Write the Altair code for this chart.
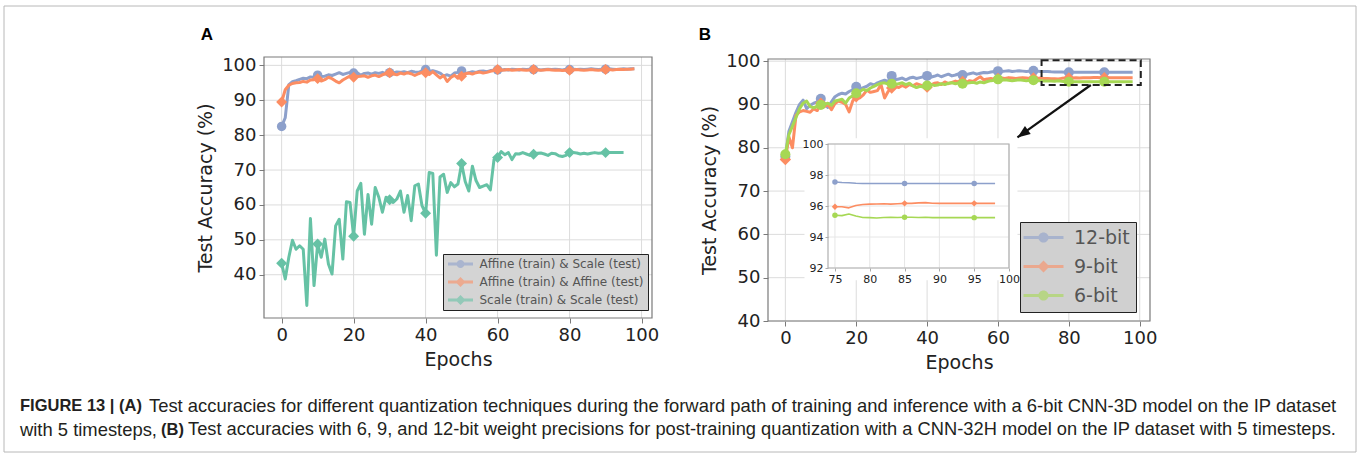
import math
import altair as alt
import pandas as pd

# ---------------- data : panel A ----------------
epochs_a = list(range(99))
acc_affine_scale = [
    82.5, 85.0, 94.5, 95.3, 95.6, 96.0, 96.3, 96.2, 96.7, 96.5,
    97.2, 96.8, 96.9, 97.3, 97.1, 97.5, 97.9, 97.4, 97.7, 98.0,
    97.8, 97.9, 97.2, 97.7, 97.8, 97.5, 97.9, 97.7, 98.0, 97.6,
    97.9, 97.8, 98.1, 98.0, 98.2, 97.9, 98.3, 98.1, 98.0, 98.4,
    98.8, 98.3, 98.5, 98.2, 97.8, 97.0, 97.3, 96.9, 97.8, 98.0,
    98.4, 97.6, 97.9, 98.2, 98.0, 98.3, 98.4, 98.2, 98.5, 98.6,
    98.7, 98.6, 98.8, 98.7, 98.9, 98.8, 98.7, 98.9, 98.8, 98.9,
    98.8, 98.9, 98.7, 98.8, 98.9, 98.8, 98.9, 98.8, 98.7, 98.9,
    98.8, 98.9, 98.8, 98.9, 98.8, 98.9, 99.0, 98.9, 98.8, 98.9,
    98.9, 99.0, 98.9, 98.8, 98.9, 99.0, 98.9, 99.0, 99.0,
]
acc_affine_affine = [
    89.5, 93.0, 94.3, 94.8, 95.0, 95.1, 95.4, 95.2, 95.8, 95.9,
    96.2, 95.5, 95.9, 96.6, 96.2, 95.5, 95.0, 95.8, 96.4, 96.9,
    96.6, 96.8, 96.9, 97.0, 96.6, 97.0, 97.2, 96.8, 97.3, 97.6,
    97.9, 97.5, 97.3, 97.8, 97.5, 97.9, 97.6, 97.1, 97.6, 98.0,
    97.9, 97.4, 98.2, 97.3, 96.4, 97.1, 95.4, 96.5, 97.2, 96.3,
    96.9, 97.6, 97.8, 97.5, 97.9, 98.1, 97.8, 98.0, 98.3, 98.5,
    98.8, 98.6, 98.7, 98.8, 98.6, 98.7, 98.8, 98.7, 98.6, 98.7,
    98.8, 98.7, 98.6, 98.7, 98.8, 98.7, 98.6, 98.7, 98.5, 98.6,
    98.6, 98.7, 98.8, 98.7, 98.6, 98.7, 98.8, 98.7, 98.6, 98.7,
    98.8, 98.8, 98.7, 98.8, 98.9, 98.8, 98.9, 98.9, 99.0,
]
epochs_a_scale = list(range(96))
acc_scale_scale = [
    43.3, 38.8, 45.0, 49.9, 47.3, 48.3, 47.3, 31.2, 56.1, 36.9,
    48.8, 45.0, 50.2, 43.1, 40.2, 54.0, 55.9, 44.5, 60.9, 60.7,
    51.0, 64.0, 66.2, 51.6, 63.0, 54.5, 65.0, 62.2, 57.9, 62.2,
    61.5, 60.7, 61.7, 64.0, 57.9, 62.7, 55.5, 65.5, 66.0, 59.8,
    57.6, 69.3, 69.0, 45.6, 68.0, 68.8, 63.6, 66.4, 65.2, 66.0,
    71.9, 66.7, 64.0, 71.1, 67.0, 65.0, 65.4, 65.8, 64.3, 73.0,
    73.6, 75.3, 74.4, 75.0, 73.0, 74.7, 74.6, 75.0, 74.6, 74.2,
    74.5, 74.8, 74.9, 74.6, 74.2, 74.8, 74.7, 74.1, 73.9, 74.2,
    75.0, 75.0, 74.9, 74.6, 74.8, 74.6, 74.8, 75.0, 74.8, 74.9,
    75.0, 75.0, 75.0, 75.0, 75.0, 75.0,
]
names_a = ["Affine (train) & Scale (test)", "Affine (train) & Affine (test)",
           "Scale (train) & Scale (test)"]

# ---------------- data : panel B ----------------
epochs_b = list(range(99))
acc_12bit = [
    78.0, 83.8, 86.0, 88.2, 90.0, 91.0, 89.0, 89.8, 90.3, 90.6,
    91.3, 90.2, 89.3, 90.6, 91.8, 92.3, 92.6, 92.4, 93.0, 93.4,
    94.1, 93.6, 93.9, 94.2, 94.8, 94.5, 95.0, 95.3, 95.6, 95.3,
    96.6, 95.7, 95.9, 96.1, 95.7, 96.1, 96.3, 96.0, 96.2, 96.4,
    96.6, 96.3, 96.5, 96.8, 96.4, 96.7, 97.0, 96.6, 96.8, 97.1,
    96.8, 96.9, 97.1, 97.3, 97.0, 97.2, 97.4, 97.3, 97.5, 97.6,
    97.7, 97.6, 97.7, 97.8, 97.6, 97.7, 97.8, 97.7, 97.6, 97.7,
    97.8, 97.7, 97.6, 97.6, 97.6, 97.55, 97.52, 97.5, 97.47, 97.45,
    97.45, 97.45, 97.45, 97.45, 97.45, 97.45, 97.45, 97.45, 97.45, 97.45,
    97.45, 97.45, 97.45, 97.45, 97.45, 97.45, 97.45, 97.45, 97.45,
]
acc_9bit = [
    77.3, 82.5, 80.0, 87.5, 88.3, 88.6, 88.4, 88.2, 89.0, 88.6,
    90.3, 89.5, 90.0, 88.8, 90.2, 90.8, 90.5, 90.0, 88.3, 90.8,
    91.8, 91.5, 92.2, 93.3, 92.8, 93.0, 93.2, 94.6, 91.5, 93.0,
    93.8, 94.2, 93.9, 94.4, 94.0, 94.6, 94.3, 94.8, 94.5, 94.2,
    94.0, 94.5, 94.9, 95.0, 94.6, 95.2, 94.8, 95.1, 95.4, 95.2,
    95.3, 95.0, 95.5, 95.3, 95.9, 96.4, 95.7, 95.9, 96.0, 95.8,
    96.0, 96.1, 96.0, 96.2, 96.1, 96.0, 96.1, 96.2, 96.1, 96.0,
    96.1, 96.0, 96.1, 96.0, 96.0, 95.95, 95.95, 95.88, 96.03, 96.1,
    96.12, 96.13, 96.15, 96.12, 96.15, 96.17, 96.17, 96.2, 96.22, 96.18,
    96.17, 96.17, 96.17, 96.17, 96.17, 96.17, 96.17, 96.17, 96.17,
]
acc_6bit = [
    78.5, 83.0, 85.0, 87.0, 89.0, 90.3, 90.8, 89.5, 89.2, 89.6,
    89.9, 90.0, 90.3, 89.8, 90.8, 91.0, 91.2, 90.3, 91.5, 92.0,
    92.6, 93.0, 93.5, 93.2, 93.8, 94.2, 94.6, 94.9, 95.0, 94.7,
    94.8, 94.6, 94.8, 95.0, 94.6, 94.9, 94.3, 93.9, 94.2, 94.0,
    94.4, 94.6, 94.4, 94.5, 94.8, 94.6, 94.9, 95.0, 94.8, 95.0,
    94.8, 94.9, 95.0, 95.1, 94.9, 95.2, 95.0, 95.3, 95.5, 95.6,
    95.8, 95.6, 95.7, 95.6, 95.5, 95.6, 95.7, 95.6, 95.5, 95.6,
    95.6, 95.5, 95.5, 95.4, 95.4, 95.4, 95.38, 95.48, 95.35, 95.26,
    95.25, 95.23, 95.26, 95.27, 95.26, 95.27, 95.27, 95.26, 95.27, 95.25,
    95.25, 95.25, 95.25, 95.25, 95.25, 95.25, 95.25, 95.25, 95.25,
]
names_b = ["12-bit", "9-bit", "6-bit"]

x_ticks = [0, 20, 40, 60, 80, 100]
y_ticks = [40, 50, 60, 70, 80, 90, 100]
inset_x_ticks = [75, 80, 85, 90, 95, 100]
inset_y_ticks = [92, 94, 96, 98, 100]
inset_start = 75

# zoom box, arrow (panel B data coords) and inset background box
zoom_box = {"epoch": [72.3], "epoch2": [100.3], "acc": [94.5], "acc2": [100.2]}
arrow_pts = {"epoch": [86.2, 65.5], "acc": [94.5, 82.4]}
inset_bg = {"epoch": [5.4], "epoch2": [65.5], "acc": [49.4], "acc2": [82.2]}

caption_1_bold = "FIGURE 13 | (A)"
caption_1 = ("Test accuracies for different quantization techniques during the forward path "
             "of training and inference with a 6-bit CNN-3D model on the IP dataset")
caption_2a = "with 5 timesteps,"
caption_2_bold = "(B)"
caption_2b = ("Test accuracies with 6, 9, and 12-bit weight precisions for post-training "
              "quantization with a CNN-32H model on the IP dataset with 5 timesteps.")

# ---------------- styles / layout ----------------
W, H = 1360, 457
FONT = "DejaVu Sans"
CAP_FONT = "Liberation Sans"
TXT = "#222222"
SPINE = "#7a7a7a"
GRID = "#dcdcdc"
BLUE, ORANGE, TEAL, LIME = "#8da0cb", "#fc8d62", "#66c2a5", "#a6d854"

A_XDOM, A_YDOM = [-4.9, 102.9], [27.6, 102.4]
A_XR, A_YR = [264, 652], [318, 57]
B_XDOM, B_YDOM = [-4.9, 102.9], [40, 100.5]
B_XR, B_YR = [768, 1150], [321, 59]
I_XDOM, I_YDOM = [74, 100], [92, 100]
I_XR, I_YR = [828, 1009], [268, 144]


def scale(dom, rng):
    return alt.Scale(domain=dom, range=rng, nice=False, zero=False)


def axis(orient, offset, values, title, fs, tick, pad, zindex=0, color=SPINE, title_pad=6):
    kw = dict(orient=orient, offset=offset, values=values, grid=False, domain=False,
              ticks=True, tickSize=tick, tickColor=color, tickWidth=1,
              labelFont=FONT, labelFontSize=fs, labelColor=TXT, labelPadding=pad,
              labelFlush=False, labelOverlap=False, format="d", zindex=zindex)
    if title:
        kw.update(title=title, titleFont=FONT, titleFontSize=19, titleFontWeight="normal",
                  titleColor=TXT, titlePadding=title_pad)
    else:
        kw.update(title=None)
    return alt.Axis(**kw)


def enc(xs, ys, xax, yax, x2=False, y2=False):
    e = dict(x=alt.X("epoch:Q", scale=xs, axis=xax), y=alt.Y("acc:Q", scale=ys, axis=yax))
    if x2:
        e["x2"] = alt.X2("epoch2:Q")
    if y2:
        e["y2"] = alt.Y2("acc2:Q")
    return e


def frame_layers(xdom, ydom, xs, ys, xax, yax, xt, yt, grid_color, spine_color):
    gx = pd.DataFrame({"epoch": xt, "acc": [ydom[0]] * len(xt), "acc2": [ydom[1]] * len(xt)})
    gy = pd.DataFrame({"acc": yt, "epoch": [xdom[0]] * len(yt), "epoch2": [xdom[1]] * len(yt)})
    box = pd.DataFrame({"epoch": [xdom[0]], "epoch2": [xdom[1]], "acc": [ydom[0]], "acc2": [ydom[1]]})
    return [
        alt.Chart(gx).mark_rule(color=grid_color, strokeWidth=1).encode(**enc(xs, ys, xax, yax, y2=True)),
        alt.Chart(gy).mark_rule(color=grid_color, strokeWidth=1).encode(**enc(xs, ys, xax, yax, x2=True)),
    ], alt.Chart(box).mark_rect(fillOpacity=0, stroke=spine_color, strokeWidth=1.2).encode(
        **enc(xs, ys, xax, yax, x2=True, y2=True))


def series(df, color, shape, xs, ys, xax, yax, lw, msize, mfilter):
    e = enc(xs, ys, xax, yax)
    line = alt.Chart(df).mark_line(color=color, strokeWidth=lw, strokeJoin="round").encode(**e)
    pts = alt.Chart(df).transform_filter(mfilter).mark_point(
        shape=shape, filled=True, size=msize, color=color, opacity=1, strokeWidth=0).encode(**e)
    return [line, pts]


def sym_paths(half_len, half_th, circ_r, diam_r, shapes):
    line = f"M{-half_len},{-half_th}H{half_len}V{half_th}H{-half_len}Z"
    circ = (f"M{-circ_r},0A{circ_r},{circ_r},0,1,1,{circ_r},0"
            f"A{circ_r},{circ_r},0,1,1,{-circ_r},0Z")
    diam = f"M0,{-diam_r}L{diam_r},0L0,{diam_r}L{-diam_r},0Z"
    return [line + (circ if s == "circle" else diam) for s in shapes]


def legend_layer(names, colors, paths, legend):
    df = pd.DataFrame({"series": names})
    return alt.Chart(df).transform_filter("false").mark_point(filled=True, opacity=1).encode(
        color=alt.Color("series:N", scale=alt.Scale(domain=names, range=colors), legend=legend),
        shape=alt.Shape("series:N", scale=alt.Scale(domain=names, range=paths), legend=legend),
    )


# ---------------- panel A ----------------
xs_a, ys_a = scale(A_XDOM, A_XR), scale(A_YDOM, A_YR)
xax_a = axis("bottom", A_YR[0] - H, x_ticks, "Epochs", 18, 5, 3)
yax_a = axis("left", -A_XR[0], y_ticks, "Test Accuracy (%)", 18, 5, 3)
grids_a, spine_a = frame_layers(A_XDOM, A_YDOM, xs_a, ys_a, xax_a, yax_a, x_ticks, y_ticks, GRID, SPINE)

df_a = [
    pd.DataFrame({"epoch": epochs_a, "acc": acc_affine_scale}),
    pd.DataFrame({"epoch": epochs_a, "acc": acc_affine_affine}),
    pd.DataFrame({"epoch": epochs_a_scale, "acc": acc_scale_scale}),
]
colors_a = [BLUE, ORANGE, TEAL]
shapes_a = ["circle", "diamond", "diamond"]
layers_a = list(grids_a) + [spine_a]
for d, c, s in zip(df_a, colors_a, shapes_a):
    layers_a += series(d, c, s, xs_a, ys_a, xax_a, yax_a, 3, 90 if s == "circle" else 120,
                       "datum.epoch % 10 == 0")

leg_a = alt.Legend(orient="none", legendX=443, legendY=254, title=None, fillColor="#d4d4d4",
                   strokeColor="#222222", padding=4, rowPadding=6, symbolOffset=7.5,
                   labelOffset=13, labelFont=FONT, labelFontSize=12, labelColor="#555555",
                   labelLimit=400, symbolStrokeWidth=0, symbolSize=100, symbolOpacity=0.6,
                   cornerRadius=0)
layers_a.append(legend_layer(names_a, colors_a, sym_paths(2.5, 0.3, 0.8, 1.0, shapes_a), leg_a))
panel_a = alt.layer(*layers_a)

# ---------------- panel B ----------------
xs_b, ys_b = scale(B_XDOM, B_XR), scale(B_YDOM, B_YR)
xax_b = axis("bottom", B_YR[0] - H, x_ticks, "Epochs", 18, 5, 3)
yax_b = axis("left", -B_XR[0], y_ticks, "Test Accuracy (%)", 18, 5, 3)
grids_b, spine_b = frame_layers(B_XDOM, B_YDOM, xs_b, ys_b, xax_b, yax_b, x_ticks, y_ticks, GRID, SPINE)

df_b = [pd.DataFrame({"epoch": epochs_b, "acc": v}) for v in (acc_12bit, acc_9bit, acc_6bit)]
colors_b = [BLUE, ORANGE, LIME]
shapes_b = ["circle", "diamond", "circle"]
layers_b = list(grids_b) + [spine_b]
for d, c, s in zip(df_b, colors_b, shapes_b):
    layers_b += series(d, c, s, xs_b, ys_b, xax_b, yax_b, 3, 100 if s == "circle" else 130,
                       "datum.epoch % 10 == 0")

e_b = enc(xs_b, ys_b, xax_b, yax_b)
layers_b.append(alt.Chart(pd.DataFrame(zoom_box)).mark_rect(
    fillOpacity=0, stroke="#222222", strokeWidth=2, strokeDash=[7, 4]).encode(
    **enc(xs_b, ys_b, xax_b, yax_b, x2=True, y2=True)))
layers_b.append(alt.Chart(pd.DataFrame(arrow_pts)).mark_line(
    color="#111111", strokeWidth=2.2).encode(**e_b))
px_x = (B_XR[1] - B_XR[0]) / (B_XDOM[1] - B_XDOM[0])
px_y = (B_YR[0] - B_YR[1]) / (B_YDOM[1] - B_YDOM[0])
dx = (arrow_pts["epoch"][1] - arrow_pts["epoch"][0]) * px_x
dy = -(arrow_pts["acc"][1] - arrow_pts["acc"][0]) * px_y
head_angle = math.degrees(math.atan2(dx, -dy)) % 360
head = pd.DataFrame({"epoch": [arrow_pts["epoch"][1]], "acc": [arrow_pts["acc"][1]]})
layers_b.append(alt.Chart(head).mark_point(
    shape="M0,0L0.7,1.8L-0.7,1.8Z", filled=True, color="#111111", opacity=1, size=200,
    angle=head_angle, strokeWidth=0).encode(**e_b))
layers_b.append(alt.Chart(pd.DataFrame(inset_bg)).mark_rect(color="white", opacity=1).encode(
    **enc(xs_b, ys_b, xax_b, yax_b, x2=True, y2=True)))

leg_b = alt.Legend(orient="none", legendX=1020, legendY=222, title=None, fillColor="#d0d0d0",
                   strokeColor="#222222", padding=6, rowPadding=9, symbolOffset=8,
                   labelOffset=21, labelFont=FONT, labelFontSize=19, labelColor="#555555",
                   labelLimit=400, symbolStrokeWidth=0, symbolSize=144, symbolOpacity=0.6,
                   cornerRadius=0)
layers_b.append(legend_layer(names_b, colors_b, sym_paths(3.33, 0.25, 0.85, 1.0, shapes_b), leg_b))
panel_b = alt.layer(*layers_b)

# ---------------- inset ----------------
xs_i, ys_i = scale(I_XDOM, I_XR), scale(I_YDOM, I_YR)
xax_i = axis("bottom", I_YR[0] - H, inset_x_ticks, None, 11, 3, 2, zindex=1, color="#aaaaaa")
yax_i = axis("left", -I_XR[0], inset_y_ticks, None, 11, 3, 2, zindex=1, color="#aaaaaa")
grids_i, spine_i = frame_layers(I_XDOM, I_YDOM, xs_i, ys_i, xax_i, yax_i, inset_x_ticks,
                                inset_y_ticks, "#e6e6e6", "#b0b0b0")
layers_i = list(grids_i)
for d, c, s in zip(df_b, colors_b, shapes_b):
    di = d[d["epoch"] >= inset_start]
    layers_i += series(di, c, s, xs_i, ys_i, xax_i, yax_i, 1.6, 30 if s == "circle" else 40,
                       f"(datum.epoch - {inset_start}) % 10 == 0")
layers_i.append(spine_i)
inset = alt.layer(*layers_i)


# ---------------- texts ----------------
def text(s, x, y, size, weight="normal", font=CAP_FONT, color="#231f20", align="left"):
    return alt.Chart(pd.DataFrame({"t": [s]})).mark_text(
        align=align, baseline="middle", font=font, fontSize=size, fontWeight=weight,
        color=color).encode(x=alt.value(x), y=alt.value(y), text="t:N")


texts = [
    text("A", 207, 35, 17, "bold", font="Liberation Sans", align="center", color="#000000"),
    text("B", 705, 35, 17, "bold", font="Liberation Sans", align="center", color="#000000"),
    text(caption_1_bold, 20, 406, 16.5, "bold"),
    text(caption_1, 149, 406, 18.4),
    text(caption_2a, 20, 430, 18.4),
    text(caption_2_bold, 161, 430, 16.5, "bold"),
    text(caption_2b, 188, 430, 18.3),
]
frame = alt.Chart(pd.DataFrame({"a": [0]})).mark_rect(
    fillOpacity=0, stroke="#b8b8b8", strokeWidth=1).encode(
    x=alt.value(4), x2=alt.value(1356), y=alt.value(6), y2=alt.value(452))

chart = alt.layer(panel_a, panel_b, inset, *texts, frame).resolve_scale(
    x="independent", y="independent", color="independent", shape="independent"
).properties(
    width=W, height=H, padding=0, autosize=alt.AutoSizeParams(type="none"),
    background="white",
).configure_view(stroke=None)

chart.save("out.html", embed_options={"renderer": "svg", "actions": False})
